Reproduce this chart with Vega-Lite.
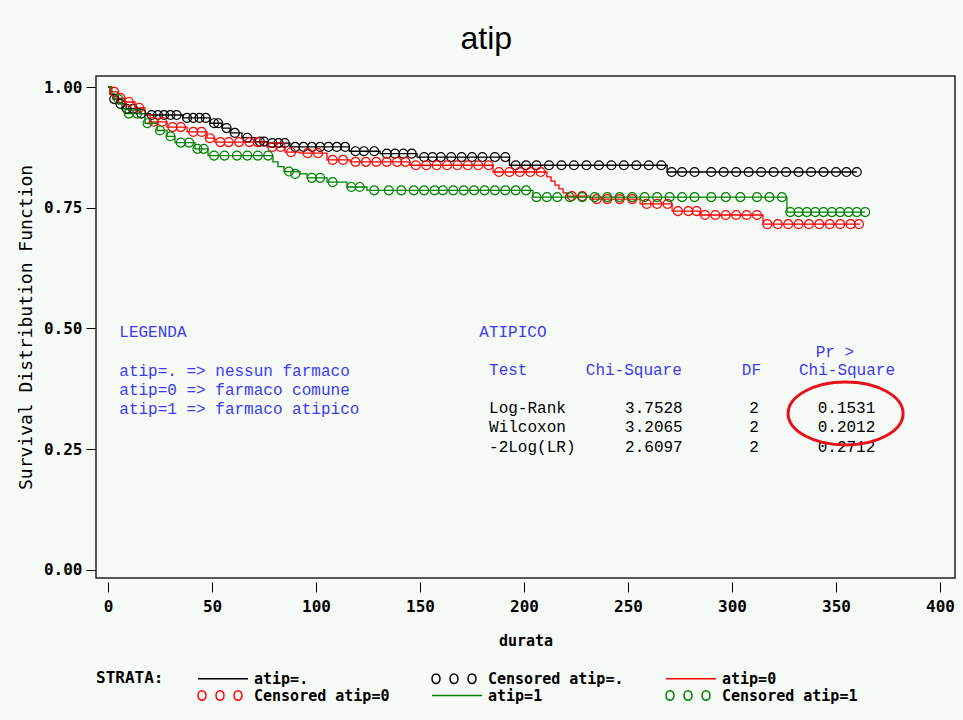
{
  "$schema": "https://vega.github.io/schema/vega-lite/v6.json",
  "width": 859,
  "height": 502,
  "autosize": {"type": "none"},
  "padding": {"left": 96, "top": 76, "right": 8, "bottom": 142},
  "background": "#f6fbf8",
  "title": {"text": "atip", "font": "Liberation Sans", "fontSize": 32, "fontWeight": "normal", "color": "#000000", "anchor": "middle", "frame": "bounds", "offset": 20},
  "config": {
    "view": {"stroke": "#222222", "strokeWidth": 1.5},
    "axis": {"grid": false, "domain": false, "tickColor": "#000000", "labelColor": "#000000", "titleColor": "#000000", "labelFont": "DejaVu Sans Mono", "labelFontSize": 16, "labelFontWeight": "bold", "titleFont": "DejaVu Sans Mono"},
    "legend": {
      "orient": "bottom", "direction": "horizontal", "columns": 3,
      "titleOrient": "left", "titleAnchor": "start", "titleBaseline": "top", "titleFont": "DejaVu Sans Mono", "titleFontSize": 16, "titleFontWeight": "bold", "titleColor": "#000000", "titlePadding": 33,
      "labelFont": "DejaVu Sans Mono", "labelFontSize": 15, "labelFontWeight": "bold", "labelColor": "#000000", "labelLimit": 300, "labelOffset": 40,
      "symbolSize": 225, "symbolStrokeWidth": 1.5, "symbolOpacity": 1, "columnPadding": 39, "rowPadding": 0, "offset": 22
    }
  },
  "datasets": {
    "steps": [
      {"leg": "atip=.", "t": 0, "s": 1.0}, {"leg": "atip=.", "t": 1, "s": 0.985}, {"leg": "atip=.", "t": 2.4, "s": 0.975}, {"leg": "atip=.", "t": 4.8, "s": 0.965}, {"leg": "atip=.", "t": 8.7, "s": 0.955}, {"leg": "atip=.", "t": 15.4, "s": 0.945}, {"leg": "atip=.", "t": 20.2, "s": 0.942}, {"leg": "atip=.", "t": 36, "s": 0.936}, {"leg": "atip=.", "t": 49, "s": 0.925}, {"leg": "atip=.", "t": 54.8, "s": 0.915}, {"leg": "atip=.", "t": 58.7, "s": 0.905}, {"leg": "atip=.", "t": 64.4, "s": 0.895}, {"leg": "atip=.", "t": 70.7, "s": 0.887}, {"leg": "atip=.", "t": 76.9, "s": 0.884}, {"leg": "atip=.", "t": 87.5, "s": 0.876}, {"leg": "atip=.", "t": 116, "s": 0.867}, {"leg": "atip=.", "t": 130.8, "s": 0.862}, {"leg": "atip=.", "t": 148.6, "s": 0.855}, {"leg": "atip=.", "t": 193, "s": 0.838}, {"leg": "atip=.", "t": 268.8, "s": 0.824}, {"leg": "atip=.", "t": 360, "s": 0.824},
      {"leg": "atip=0", "t": 0, "s": 1.0}, {"leg": "atip=0", "t": 1.4, "s": 0.99}, {"leg": "atip=0", "t": 4.8, "s": 0.977}, {"leg": "atip=0", "t": 8.2, "s": 0.969}, {"leg": "atip=0", "t": 13, "s": 0.957}, {"leg": "atip=0", "t": 17.8, "s": 0.942}, {"leg": "atip=0", "t": 20.2, "s": 0.928}, {"leg": "atip=0", "t": 28.4, "s": 0.917}, {"leg": "atip=0", "t": 38, "s": 0.907}, {"leg": "atip=0", "t": 47.6, "s": 0.894}, {"leg": "atip=0", "t": 51.4, "s": 0.886}, {"leg": "atip=0", "t": 76.4, "s": 0.876}, {"leg": "atip=0", "t": 85.1, "s": 0.865}, {"leg": "atip=0", "t": 92.3, "s": 0.863}, {"leg": "atip=0", "t": 105.3, "s": 0.849}, {"leg": "atip=0", "t": 116.3, "s": 0.845}, {"leg": "atip=0", "t": 145.2, "s": 0.838}, {"leg": "atip=0", "t": 185.1, "s": 0.824}, {"leg": "atip=0", "t": 211, "s": 0.814}, {"leg": "atip=0", "t": 213, "s": 0.805}, {"leg": "atip=0", "t": 214.9, "s": 0.797}, {"leg": "atip=0", "t": 216.8, "s": 0.789}, {"leg": "atip=0", "t": 218.8, "s": 0.781}, {"leg": "atip=0", "t": 220.7, "s": 0.774}, {"leg": "atip=0", "t": 231.7, "s": 0.768}, {"leg": "atip=0", "t": 255.8, "s": 0.758}, {"leg": "atip=0", "t": 271.2, "s": 0.743}, {"leg": "atip=0", "t": 284.6, "s": 0.735}, {"leg": "atip=0", "t": 314.9, "s": 0.716}, {"leg": "atip=0", "t": 361.5, "s": 0.716},
      {"leg": "atip=1", "t": 0, "s": 1.0}, {"leg": "atip=1", "t": 1.9, "s": 0.985}, {"leg": "atip=1", "t": 4.8, "s": 0.975}, {"leg": "atip=1", "t": 6.7, "s": 0.955}, {"leg": "atip=1", "t": 8.2, "s": 0.945}, {"leg": "atip=1", "t": 17.8, "s": 0.925}, {"leg": "atip=1", "t": 23.6, "s": 0.91}, {"leg": "atip=1", "t": 28.4, "s": 0.898}, {"leg": "atip=1", "t": 32.2, "s": 0.885}, {"leg": "atip=1", "t": 41.8, "s": 0.872}, {"leg": "atip=1", "t": 48.1, "s": 0.858}, {"leg": "atip=1", "t": 79.3, "s": 0.845}, {"leg": "atip=1", "t": 81.7, "s": 0.835}, {"leg": "atip=1", "t": 84.6, "s": 0.825}, {"leg": "atip=1", "t": 92.3, "s": 0.82}, {"leg": "atip=1", "t": 95.7, "s": 0.812}, {"leg": "atip=1", "t": 105.3, "s": 0.803}, {"leg": "atip=1", "t": 114.9, "s": 0.793}, {"leg": "atip=1", "t": 124.5, "s": 0.786}, {"leg": "atip=1", "t": 204.3, "s": 0.772}, {"leg": "atip=1", "t": 326.4, "s": 0.741}, {"leg": "atip=1", "t": 364, "s": 0.741}
    ],
    "censored": [
      {"leg": "Censored atip=.", "t": 3, "s": 0.975}, {"leg": "Censored atip=.", "t": 6, "s": 0.965}, {"leg": "Censored atip=.", "t": 9, "s": 0.955}, {"leg": "Censored atip=.", "t": 12, "s": 0.955}, {"leg": "Censored atip=.", "t": 16, "s": 0.945},
      {"leg": "Censored atip=.", "t": 21, "s": 0.942}, {"leg": "Censored atip=.", "t": 24, "s": 0.942}, {"leg": "Censored atip=.", "t": 27, "s": 0.942}, {"leg": "Censored atip=.", "t": 30, "s": 0.942}, {"leg": "Censored atip=.", "t": 33, "s": 0.942},
      {"leg": "Censored atip=.", "t": 38, "s": 0.936}, {"leg": "Censored atip=.", "t": 41, "s": 0.936}, {"leg": "Censored atip=.", "t": 44, "s": 0.936}, {"leg": "Censored atip=.", "t": 47, "s": 0.936},
      {"leg": "Censored atip=.", "t": 51, "s": 0.925}, {"leg": "Censored atip=.", "t": 53, "s": 0.925}, {"leg": "Censored atip=.", "t": 57, "s": 0.915}, {"leg": "Censored atip=.", "t": 61, "s": 0.905}, {"leg": "Censored atip=.", "t": 67, "s": 0.895},
      {"leg": "Censored atip=.", "t": 73, "s": 0.887}, {"leg": "Censored atip=.", "t": 75, "s": 0.887}, {"leg": "Censored atip=.", "t": 79, "s": 0.884}, {"leg": "Censored atip=.", "t": 82, "s": 0.884}, {"leg": "Censored atip=.", "t": 85, "s": 0.884},
      {"leg": "Censored atip=.", "t": 90, "s": 0.876}, {"leg": "Censored atip=.", "t": 94, "s": 0.876}, {"leg": "Censored atip=.", "t": 98, "s": 0.876}, {"leg": "Censored atip=.", "t": 102, "s": 0.876}, {"leg": "Censored atip=.", "t": 106, "s": 0.876}, {"leg": "Censored atip=.", "t": 110, "s": 0.876}, {"leg": "Censored atip=.", "t": 114, "s": 0.876},
      {"leg": "Censored atip=.", "t": 119, "s": 0.867}, {"leg": "Censored atip=.", "t": 123, "s": 0.867}, {"leg": "Censored atip=.", "t": 128, "s": 0.867},
      {"leg": "Censored atip=.", "t": 134, "s": 0.862}, {"leg": "Censored atip=.", "t": 138, "s": 0.862}, {"leg": "Censored atip=.", "t": 142, "s": 0.862}, {"leg": "Censored atip=.", "t": 146, "s": 0.862},
      {"leg": "Censored atip=.", "t": 152, "s": 0.855}, {"leg": "Censored atip=.", "t": 156, "s": 0.855}, {"leg": "Censored atip=.", "t": 160, "s": 0.855}, {"leg": "Censored atip=.", "t": 165, "s": 0.855}, {"leg": "Censored atip=.", "t": 170, "s": 0.855}, {"leg": "Censored atip=.", "t": 175, "s": 0.855}, {"leg": "Censored atip=.", "t": 180, "s": 0.855}, {"leg": "Censored atip=.", "t": 186, "s": 0.855}, {"leg": "Censored atip=.", "t": 191, "s": 0.855},
      {"leg": "Censored atip=.", "t": 196, "s": 0.838}, {"leg": "Censored atip=.", "t": 201, "s": 0.838}, {"leg": "Censored atip=.", "t": 206, "s": 0.838}, {"leg": "Censored atip=.", "t": 212, "s": 0.838}, {"leg": "Censored atip=.", "t": 218, "s": 0.838}, {"leg": "Censored atip=.", "t": 224, "s": 0.838}, {"leg": "Censored atip=.", "t": 230, "s": 0.838}, {"leg": "Censored atip=.", "t": 236, "s": 0.838}, {"leg": "Censored atip=.", "t": 242, "s": 0.838}, {"leg": "Censored atip=.", "t": 248, "s": 0.838}, {"leg": "Censored atip=.", "t": 254, "s": 0.838}, {"leg": "Censored atip=.", "t": 260, "s": 0.838}, {"leg": "Censored atip=.", "t": 266, "s": 0.838},
      {"leg": "Censored atip=.", "t": 271, "s": 0.824}, {"leg": "Censored atip=.", "t": 276, "s": 0.824}, {"leg": "Censored atip=.", "t": 282, "s": 0.824}, {"leg": "Censored atip=.", "t": 290, "s": 0.824}, {"leg": "Censored atip=.", "t": 296, "s": 0.824}, {"leg": "Censored atip=.", "t": 302, "s": 0.824}, {"leg": "Censored atip=.", "t": 308, "s": 0.824}, {"leg": "Censored atip=.", "t": 314, "s": 0.824}, {"leg": "Censored atip=.", "t": 320, "s": 0.824}, {"leg": "Censored atip=.", "t": 326, "s": 0.824}, {"leg": "Censored atip=.", "t": 332, "s": 0.824}, {"leg": "Censored atip=.", "t": 338, "s": 0.824}, {"leg": "Censored atip=.", "t": 344, "s": 0.824}, {"leg": "Censored atip=.", "t": 350, "s": 0.824}, {"leg": "Censored atip=.", "t": 355, "s": 0.824}, {"leg": "Censored atip=.", "t": 360, "s": 0.824},
      {"leg": "Censored atip=0", "t": 3, "s": 0.99}, {"leg": "Censored atip=0", "t": 6, "s": 0.977}, {"leg": "Censored atip=0", "t": 10, "s": 0.969}, {"leg": "Censored atip=0", "t": 15, "s": 0.957},
      {"leg": "Censored atip=0", "t": 22, "s": 0.928}, {"leg": "Censored atip=0", "t": 26, "s": 0.928}, {"leg": "Censored atip=0", "t": 31, "s": 0.917}, {"leg": "Censored atip=0", "t": 35, "s": 0.917}, {"leg": "Censored atip=0", "t": 41, "s": 0.907}, {"leg": "Censored atip=0", "t": 45, "s": 0.907}, {"leg": "Censored atip=0", "t": 49, "s": 0.894},
      {"leg": "Censored atip=0", "t": 54, "s": 0.886}, {"leg": "Censored atip=0", "t": 58, "s": 0.886}, {"leg": "Censored atip=0", "t": 63, "s": 0.886}, {"leg": "Censored atip=0", "t": 68, "s": 0.886}, {"leg": "Censored atip=0", "t": 72, "s": 0.886},
      {"leg": "Censored atip=0", "t": 79, "s": 0.876}, {"leg": "Censored atip=0", "t": 83, "s": 0.876}, {"leg": "Censored atip=0", "t": 88, "s": 0.865}, {"leg": "Censored atip=0", "t": 96, "s": 0.863}, {"leg": "Censored atip=0", "t": 101, "s": 0.863}, {"leg": "Censored atip=0", "t": 108, "s": 0.849}, {"leg": "Censored atip=0", "t": 113, "s": 0.849},
      {"leg": "Censored atip=0", "t": 119, "s": 0.845}, {"leg": "Censored atip=0", "t": 124, "s": 0.845}, {"leg": "Censored atip=0", "t": 129, "s": 0.845}, {"leg": "Censored atip=0", "t": 134, "s": 0.845}, {"leg": "Censored atip=0", "t": 139, "s": 0.845}, {"leg": "Censored atip=0", "t": 143, "s": 0.845},
      {"leg": "Censored atip=0", "t": 148, "s": 0.838}, {"leg": "Censored atip=0", "t": 153, "s": 0.838}, {"leg": "Censored atip=0", "t": 158, "s": 0.838}, {"leg": "Censored atip=0", "t": 163, "s": 0.838}, {"leg": "Censored atip=0", "t": 168, "s": 0.838}, {"leg": "Censored atip=0", "t": 173, "s": 0.838}, {"leg": "Censored atip=0", "t": 178, "s": 0.838}, {"leg": "Censored atip=0", "t": 183, "s": 0.838},
      {"leg": "Censored atip=0", "t": 188, "s": 0.824}, {"leg": "Censored atip=0", "t": 193, "s": 0.824}, {"leg": "Censored atip=0", "t": 198, "s": 0.824}, {"leg": "Censored atip=0", "t": 203, "s": 0.824}, {"leg": "Censored atip=0", "t": 208, "s": 0.824},
      {"leg": "Censored atip=0", "t": 223, "s": 0.774}, {"leg": "Censored atip=0", "t": 228, "s": 0.774}, {"leg": "Censored atip=0", "t": 235, "s": 0.768}, {"leg": "Censored atip=0", "t": 240, "s": 0.768}, {"leg": "Censored atip=0", "t": 246, "s": 0.768}, {"leg": "Censored atip=0", "t": 252, "s": 0.768},
      {"leg": "Censored atip=0", "t": 259, "s": 0.758}, {"leg": "Censored atip=0", "t": 264, "s": 0.758}, {"leg": "Censored atip=0", "t": 269, "s": 0.758}, {"leg": "Censored atip=0", "t": 274, "s": 0.743}, {"leg": "Censored atip=0", "t": 279, "s": 0.743}, {"leg": "Censored atip=0", "t": 283, "s": 0.743},
      {"leg": "Censored atip=0", "t": 287, "s": 0.735}, {"leg": "Censored atip=0", "t": 292, "s": 0.735}, {"leg": "Censored atip=0", "t": 297, "s": 0.735}, {"leg": "Censored atip=0", "t": 302, "s": 0.735}, {"leg": "Censored atip=0", "t": 307, "s": 0.735}, {"leg": "Censored atip=0", "t": 312, "s": 0.735},
      {"leg": "Censored atip=0", "t": 317, "s": 0.716}, {"leg": "Censored atip=0", "t": 322, "s": 0.716}, {"leg": "Censored atip=0", "t": 327, "s": 0.716}, {"leg": "Censored atip=0", "t": 332, "s": 0.716}, {"leg": "Censored atip=0", "t": 337, "s": 0.716}, {"leg": "Censored atip=0", "t": 342, "s": 0.716}, {"leg": "Censored atip=0", "t": 347, "s": 0.716}, {"leg": "Censored atip=0", "t": 352, "s": 0.716}, {"leg": "Censored atip=0", "t": 357, "s": 0.716}, {"leg": "Censored atip=0", "t": 361, "s": 0.716},
      {"leg": "Censored atip=1", "t": 5, "s": 0.975}, {"leg": "Censored atip=1", "t": 10, "s": 0.945}, {"leg": "Censored atip=1", "t": 14, "s": 0.945}, {"leg": "Censored atip=1", "t": 19, "s": 0.925}, {"leg": "Censored atip=1", "t": 25, "s": 0.91}, {"leg": "Censored atip=1", "t": 30, "s": 0.898}, {"leg": "Censored atip=1", "t": 35, "s": 0.885}, {"leg": "Censored atip=1", "t": 39, "s": 0.885}, {"leg": "Censored atip=1", "t": 43, "s": 0.872}, {"leg": "Censored atip=1", "t": 46, "s": 0.872},
      {"leg": "Censored atip=1", "t": 51, "s": 0.858}, {"leg": "Censored atip=1", "t": 56, "s": 0.858}, {"leg": "Censored atip=1", "t": 62, "s": 0.858}, {"leg": "Censored atip=1", "t": 67, "s": 0.858}, {"leg": "Censored atip=1", "t": 72, "s": 0.858}, {"leg": "Censored atip=1", "t": 77, "s": 0.858},
      {"leg": "Censored atip=1", "t": 87, "s": 0.825}, {"leg": "Censored atip=1", "t": 90, "s": 0.82}, {"leg": "Censored atip=1", "t": 98, "s": 0.812}, {"leg": "Censored atip=1", "t": 102, "s": 0.812}, {"leg": "Censored atip=1", "t": 108, "s": 0.803}, {"leg": "Censored atip=1", "t": 117, "s": 0.793}, {"leg": "Censored atip=1", "t": 121, "s": 0.793},
      {"leg": "Censored atip=1", "t": 128, "s": 0.786}, {"leg": "Censored atip=1", "t": 135, "s": 0.786}, {"leg": "Censored atip=1", "t": 141, "s": 0.786}, {"leg": "Censored atip=1", "t": 147, "s": 0.786}, {"leg": "Censored atip=1", "t": 152, "s": 0.786}, {"leg": "Censored atip=1", "t": 157, "s": 0.786}, {"leg": "Censored atip=1", "t": 161, "s": 0.786}, {"leg": "Censored atip=1", "t": 166, "s": 0.786}, {"leg": "Censored atip=1", "t": 171, "s": 0.786}, {"leg": "Censored atip=1", "t": 176, "s": 0.786}, {"leg": "Censored atip=1", "t": 181, "s": 0.786}, {"leg": "Censored atip=1", "t": 186, "s": 0.786}, {"leg": "Censored atip=1", "t": 191, "s": 0.786}, {"leg": "Censored atip=1", "t": 196, "s": 0.786}, {"leg": "Censored atip=1", "t": 201, "s": 0.786},
      {"leg": "Censored atip=1", "t": 206, "s": 0.772}, {"leg": "Censored atip=1", "t": 211, "s": 0.772}, {"leg": "Censored atip=1", "t": 216, "s": 0.772}, {"leg": "Censored atip=1", "t": 222, "s": 0.772}, {"leg": "Censored atip=1", "t": 228, "s": 0.772}, {"leg": "Censored atip=1", "t": 234, "s": 0.772}, {"leg": "Censored atip=1", "t": 240, "s": 0.772}, {"leg": "Censored atip=1", "t": 246, "s": 0.772}, {"leg": "Censored atip=1", "t": 252, "s": 0.772}, {"leg": "Censored atip=1", "t": 258, "s": 0.772}, {"leg": "Censored atip=1", "t": 264, "s": 0.772}, {"leg": "Censored atip=1", "t": 270, "s": 0.772}, {"leg": "Censored atip=1", "t": 276, "s": 0.772}, {"leg": "Censored atip=1", "t": 282, "s": 0.772}, {"leg": "Censored atip=1", "t": 290, "s": 0.772}, {"leg": "Censored atip=1", "t": 297, "s": 0.772}, {"leg": "Censored atip=1", "t": 304, "s": 0.772}, {"leg": "Censored atip=1", "t": 312, "s": 0.772}, {"leg": "Censored atip=1", "t": 318, "s": 0.772}, {"leg": "Censored atip=1", "t": 324, "s": 0.772},
      {"leg": "Censored atip=1", "t": 328, "s": 0.741}, {"leg": "Censored atip=1", "t": 332, "s": 0.741}, {"leg": "Censored atip=1", "t": 336, "s": 0.741}, {"leg": "Censored atip=1", "t": 340, "s": 0.741}, {"leg": "Censored atip=1", "t": 344, "s": 0.741}, {"leg": "Censored atip=1", "t": 348, "s": 0.741}, {"leg": "Censored atip=1", "t": 352, "s": 0.741}, {"leg": "Censored atip=1", "t": 356, "s": 0.741}, {"leg": "Censored atip=1", "t": 360, "s": 0.741}, {"leg": "Censored atip=1", "t": 364, "s": 0.741}
    ],
    "legendKeys": [
      {"leg": "atip=."}, {"leg": "Censored atip=."}, {"leg": "atip=0"}, {"leg": "Censored atip=0"}, {"leg": "atip=1"}, {"leg": "Censored atip=1"}
    ],
    "blueText": [
      {"label": "LEGENDA", "t": 5.43, "s": 0.4934},
      {"label": "atip=. => nessun farmaco", "t": 5.43, "s": 0.412},
      {"label": "atip=0 => farmaco comune", "t": 5.43, "s": 0.3727},
      {"label": "atip=1 => farmaco atipico", "t": 5.43, "s": 0.3333},
      {"label": "ATIPICO", "t": 178.5, "s": 0.4921},
      {"label": "Pr >", "t": 340.2, "s": 0.452},
      {"label": "Test", "t": 183.2, "s": 0.4141},
      {"label": "Chi-Square", "t": 229.7, "s": 0.4141},
      {"label": "DF", "t": 304.7, "s": 0.4141},
      {"label": "Chi-Square", "t": 332.2, "s": 0.4141}
    ],
    "blackText": [
      {"label": "Log-Rank", "t": 183.2, "s": 0.3348},
      {"label": "3.7528", "t": 248.6, "s": 0.3348},
      {"label": "2", "t": 308.3, "s": 0.3348},
      {"label": "0.1531", "t": 341.2, "s": 0.3348},
      {"label": "Wilcoxon", "t": 183.2, "s": 0.2955},
      {"label": "3.2065", "t": 248.6, "s": 0.2955},
      {"label": "2", "t": 308.3, "s": 0.2955},
      {"label": "0.2012", "t": 341.2, "s": 0.2955},
      {"label": "-2Log(LR)", "t": 183.2, "s": 0.2553},
      {"label": "2.6097", "t": 248.6, "s": 0.2553},
      {"label": "2", "t": 308.3, "s": 0.2553},
      {"label": "0.2712", "t": 341.2, "s": 0.2553}
    ],
    "highlight": [
      {"t": 354.6, "s": 0.324}
    ]
  },
  "layer": [
    {
      "data": {"name": "legendKeys"},
      "mark": {"type": "point", "filled": false, "opacity": 0},
      "encoding": {
        "color": {"field": "leg", "type": "nominal",
                  "legend": {"title": "STRATA:"},
                  "scale": {"domain": ["atip=.", "Censored atip=.", "atip=0", "Censored atip=0", "atip=1", "Censored atip=1"], "range": ["#000000", "#000000", "#ff0000", "#ff0000", "#008000", "#008000"]}},
        "shape": {"field": "leg", "type": "nominal",
                  "legend": {"title": "STRATA:"},
                  "scale": {"domain": ["atip=.", "Censored atip=.", "atip=0", "Censored atip=0", "atip=1", "Censored atip=1"],
                            "range": ["M -1 0 L 5.67 0", "M -1 0 A 0.533 0.64 0 1 0 0.067 0 A 0.533 0.64 0 1 0 -1 0 Z M 1.4 0 A 0.533 0.64 0 1 0 2.467 0 A 0.533 0.64 0 1 0 1.4 0 Z M 3.8 0 A 0.533 0.64 0 1 0 4.867 0 A 0.533 0.64 0 1 0 3.8 0 Z", "M -1 0 L 5.67 0", "M -1 0 A 0.533 0.64 0 1 0 0.067 0 A 0.533 0.64 0 1 0 -1 0 Z M 1.4 0 A 0.533 0.64 0 1 0 2.467 0 A 0.533 0.64 0 1 0 1.4 0 Z M 3.8 0 A 0.533 0.64 0 1 0 4.867 0 A 0.533 0.64 0 1 0 3.8 0 Z", "M -1 0 L 5.67 0", "M -1 0 A 0.533 0.64 0 1 0 0.067 0 A 0.533 0.64 0 1 0 -1 0 Z M 1.4 0 A 0.533 0.64 0 1 0 2.467 0 A 0.533 0.64 0 1 0 1.4 0 Z M 3.8 0 A 0.533 0.64 0 1 0 4.867 0 A 0.533 0.64 0 1 0 3.8 0 Z"]}}
      }
    },
    {
      "data": {"name": "steps"},
      "mark": {"type": "line", "interpolate": "step-after", "strokeWidth": 1.3},
      "encoding": {
        "x": {"field": "t", "type": "quantitative", "scale": {"domain": [-5.77, 407.2], "nice": false, "zero": false},
              "axis": {"title": "durata", "values": [0, 50, 100, 150, 200, 250, 300, 350, 400], "offset": 4, "tickSize": 10, "labelPadding": 6, "titleFontSize": 15, "titleFontWeight": "bold", "titlePadding": 19}},
        "y": {"field": "s", "type": "quantitative", "scale": {"domain": [-0.0166, 1.0228], "nice": false, "zero": false},
              "axis": {"title": "Survival Distribution Function", "values": [0, 0.25, 0.5, 0.75, 1], "format": ".2f", "offset": 1, "tickSize": 9, "labelPadding": 4, "titleFontSize": 18, "titleFontWeight": "normal", "titlePadding": 8}},
        "color": {"field": "leg", "type": "nominal", "legend": null}
      }
    },
    {
      "data": {"name": "censored"},
      "mark": {"type": "point", "shape": "circle", "filled": false, "size": 80, "strokeWidth": 1.2, "opacity": 1},
      "encoding": {
        "x": {"field": "t", "type": "quantitative"},
        "y": {"field": "s", "type": "quantitative"},
        "color": {"field": "leg", "type": "nominal", "legend": null}
      }
    },
    {
      "data": {"name": "blueText"},
      "mark": {"type": "text", "align": "left", "baseline": "middle", "font": "Liberation Mono", "fontSize": 16, "color": "#3a3af5"},
      "encoding": {
        "x": {"field": "t", "type": "quantitative"},
        "y": {"field": "s", "type": "quantitative"},
        "text": {"field": "label"}
      }
    },
    {
      "data": {"name": "blackText"},
      "mark": {"type": "text", "align": "left", "baseline": "middle", "font": "Liberation Mono", "fontSize": 16, "color": "#000000"},
      "encoding": {
        "x": {"field": "t", "type": "quantitative"},
        "y": {"field": "s", "type": "quantitative"},
        "text": {"field": "label"}
      }
    },
    {
      "data": {"name": "highlight"},
      "mark": {"type": "point", "shape": "M -1 0 A 1 0.548 0 1 0 1 0 A 1 0.548 0 1 0 -1 0 Z", "size": 13225, "filled": false, "stroke": "#e8101a", "strokeWidth": 3, "opacity": 1},
      "encoding": {
        "x": {"field": "t", "type": "quantitative"},
        "y": {"field": "s", "type": "quantitative"}
      }
    }
  ]
}
